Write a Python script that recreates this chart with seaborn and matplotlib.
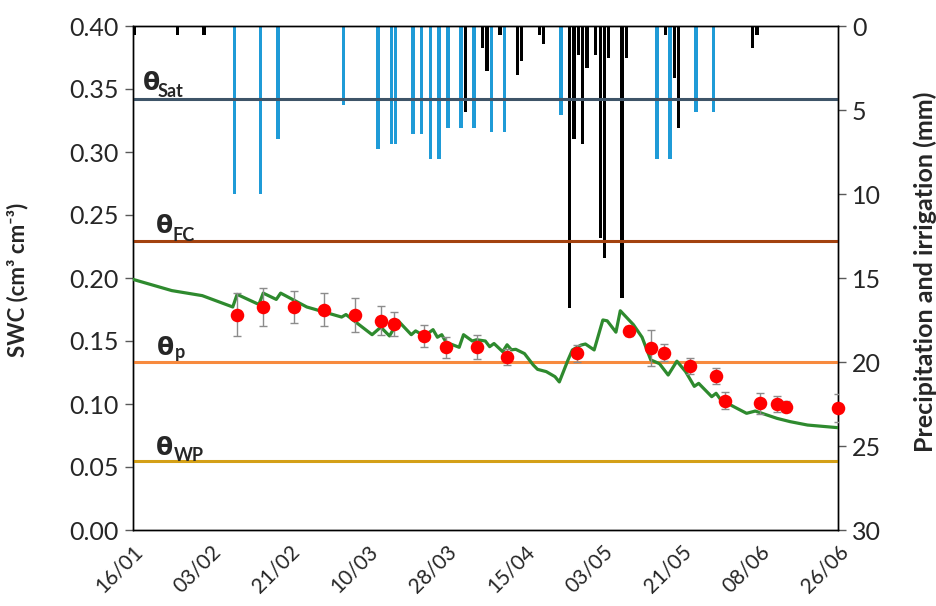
import matplotlib
matplotlib.use('Agg')
import matplotlib.pyplot as plt
import seaborn as sns
import pandas as pd

sns.set_style('white')
plt.rcParams['font.family'] = ['Lato', 'DejaVu Sans']

# ---------------- data ----------------
rain_dates = ['2016-01-16', '2016-01-26', '2016-02-01', '2016-04-01', '2016-04-05',
              '2016-04-06', '2016-04-09', '2016-04-13', '2016-04-14', '2016-04-18',
              '2016-04-19', '2016-04-25', '2016-04-26', '2016-04-27', '2016-04-28',
              '2016-04-29', '2016-05-01', '2016-05-02', '2016-05-03', '2016-05-04',
              '2016-05-07', '2016-05-08', '2016-05-17', '2016-05-19', '2016-05-20',
              '2016-06-06', '2016-06-07']
rain_mm = [0.55, 0.55, 0.55, 5.1, 1.3,
           2.7, 0.55, 2.9, 2.1, 0.55,
           1.1, 16.8, 6.7, 1.7, 7.0,
           2.5, 1.7, 12.6, 13.8, 1.9,
           16.2, 1.9, 0.55, 3.1, 6.1,
           1.3, 0.55]

irr_dates = ['2016-02-08', '2016-02-14', '2016-02-18', '2016-03-04', '2016-03-12',
             '2016-03-15', '2016-03-16', '2016-03-20', '2016-03-22', '2016-03-24',
             '2016-03-26', '2016-03-28', '2016-03-31', '2016-04-03', '2016-04-07',
             '2016-04-10', '2016-04-23', '2016-05-15', '2016-05-18', '2016-05-24',
             '2016-05-28']
irr_mm = [10.0, 10.0, 6.7, 4.7, 7.3,
          7.0, 7.0, 6.4, 6.4, 7.9,
          7.9, 6.1, 6.1, 6.1, 6.3,
          6.3, 5.3, 7.9, 7.9, 5.1,
          5.1]

sim_dates = ['2016-01-16', '2016-01-25', '2016-02-01', '2016-02-08', '2016-02-09',
             '2016-02-14', '2016-02-15', '2016-02-18', '2016-02-19', '2016-02-25',
             '2016-03-04', '2016-03-05', '2016-03-11', '2016-03-13', '2016-03-15',
             '2016-03-17', '2016-03-20', '2016-03-21', '2016-03-23', '2016-03-25',
             '2016-03-26', '2016-03-27', '2016-03-28', '2016-03-31', '2016-04-01',
             '2016-04-03', '2016-04-04', '2016-04-06', '2016-04-07', '2016-04-08',
             '2016-04-10', '2016-04-11', '2016-04-12', '2016-04-13', '2016-04-15',
             '2016-04-17', '2016-04-18', '2016-04-20', '2016-04-22', '2016-04-23',
             '2016-04-25', '2016-04-26', '2016-04-28', '2016-04-29', '2016-05-01',
             '2016-05-03', '2016-05-04', '2016-05-06', '2016-05-07', '2016-05-10',
             '2016-05-12', '2016-05-14', '2016-05-16', '2016-05-18', '2016-05-20',
             '2016-05-22', '2016-05-24', '2016-05-25', '2016-05-28', '2016-05-29',
             '2016-05-30', '2016-06-02', '2016-06-05', '2016-06-07', '2016-06-12',
             '2016-06-15', '2016-06-19', '2016-06-26']
sim_swc = [0.199, 0.190, 0.186, 0.177, 0.187,
           0.179, 0.188, 0.183, 0.188, 0.177,
           0.169, 0.171, 0.155, 0.161, 0.154,
           0.166, 0.155, 0.158, 0.154, 0.159,
           0.153, 0.155, 0.149, 0.145, 0.155,
           0.150, 0.151, 0.150, 0.1455, 0.148,
           0.1415, 0.147, 0.143, 0.1434, 0.140,
           0.131, 0.1275, 0.1257, 0.1217, 0.1175,
           0.135, 0.1429, 0.1468, 0.1476, 0.1429,
           0.1667, 0.166, 0.157, 0.174, 0.163,
           0.153, 0.135, 0.132, 0.123, 0.134,
           0.1257, 0.114, 0.1164, 0.1058, 0.1085,
           0.1037, 0.098, 0.0926, 0.0944, 0.0886,
           0.086, 0.0833, 0.0812]

obs_dates = ['2016-02-09', '2016-02-15', '2016-02-22', '2016-02-29', '2016-03-07',
             '2016-03-13', '2016-03-16', '2016-03-23', '2016-03-28', '2016-04-04',
             '2016-04-11', '2016-04-27', '2016-05-09', '2016-05-14', '2016-05-17',
             '2016-05-23', '2016-05-29', '2016-05-31', '2016-06-08', '2016-06-12',
             '2016-06-14', '2016-06-26']
obs_swc = [0.171, 0.177, 0.177, 0.175, 0.171,
           0.166, 0.1635, 0.154, 0.145, 0.1455,
           0.1376, 0.1402, 0.158, 0.1442, 0.1407,
           0.1304, 0.1222, 0.1026, 0.1005, 0.100,
           0.098, 0.097]
obs_err = [0.017, 0.015, 0.013, 0.013, 0.0135,
           0.0115, 0.0095, 0.009, 0.0085, 0.0095,
           0.0063, 0.0067, 0.004, 0.0143, 0.0068,
           0.0063, 0.0062, 0.0066, 0.0085, 0.0065,
           0.004, 0.011]

thr_names = ['Sat', 'FC', 'p', 'WP']
thr_values = [0.342, 0.229, 0.133, 0.055]
thr_colors = ['#3E5468', '#A3420F', '#F78A3E', '#D4A017']

tick_dates = ['2016-01-16', '2016-02-03', '2016-02-21', '2016-03-10', '2016-03-28',
              '2016-04-15', '2016-05-03', '2016-05-21', '2016-06-08', '2016-06-26']
tick_labels = ['16/01', '03/02', '21/02', '10/03', '28/03',
               '15/04', '03/05', '21/05', '08/06', '26/06']
left_ticks = [0.00, 0.05, 0.10, 0.15, 0.20, 0.25, 0.30, 0.35, 0.40]
right_ticks = [0, 5, 10, 15, 20, 25, 30]

# ---------------- figure ----------------
fig = plt.figure(figsize=(9.36, 6.06), dpi=100)
ax = fig.add_axes([132.6 / 936, 1 - 530 / 606, 705.4 / 936, 504 / 606])
ax2 = ax.twinx()
ax.set_zorder(ax2.get_zorder() + 1)
ax.patch.set_visible(False)

# bars on secondary (inverted) axis
ax2.bar(pd.to_datetime(rain_dates), rain_mm, width=0.75, align='edge',
        color='black', linewidth=0)
ax2.bar(pd.to_datetime(irr_dates), irr_mm, width=0.8, align='edge',
        color='#1F9BD7', linewidth=0)
ax2.set_ylim(30, 0)
ax2.set_yticks(right_ticks)

# threshold lines
for v, c in zip(thr_values, thr_colors):
    ax.axhline(v, color=c, linewidth=2.2, zorder=2)

# simulated SWC
sim_df = pd.DataFrame({'date': pd.to_datetime(sim_dates), 'swc': sim_swc})
sns.lineplot(data=sim_df, x='date', y='swc', ax=ax, color='#2E8A2E', linewidth=2.3, zorder=3)

# observed SWC
obs_df = pd.DataFrame({'date': pd.to_datetime(obs_dates), 'swc': obs_swc, 'err': obs_err})
ax.errorbar(obs_df['date'], obs_df['swc'], yerr=obs_df['err'], fmt='none',
            ecolor='#8C8C8C', elinewidth=1.0, capsize=3, capthick=1.0, zorder=4)
sns.scatterplot(data=obs_df, x='date', y='swc', ax=ax, color='#FF0000', s=95,
                edgecolor='#FF0000', linewidth=0, zorder=5, clip_on=False)

ax.set_xlim(pd.Timestamp('2016-01-16'), pd.Timestamp('2016-06-26'))
ax.set_ylim(0, 0.40)
ax.set_yticks(left_ticks)
ax.set_yticklabels([f'{t:.2f}' for t in left_ticks])
ax.set_xticks(pd.to_datetime(tick_dates))
ax.set_xticklabels(tick_labels, rotation=45, ha='right', va='top', rotation_mode='anchor')

for a in (ax, ax2):
    for s in a.spines.values():
        s.set_color('black')
        s.set_linewidth(1.0)
ax.tick_params(axis='both', which='major', direction='out', length=6, width=1,
               color='#595959', labelsize=18, pad=4)
ax.tick_params(axis='x', labelsize=15, pad=2)
ax2.tick_params(axis='y', which='major', direction='out', length=6, width=1,
                color='#595959', labelsize=18, pad=4)

ax.set_xlabel('')
ax.set_ylabel('SWC (cm³ cm⁻³)', fontsize=16, fontweight='bold', va='center')
ax.yaxis.set_label_coords(-0.1625, 0.496)
ax2.set_ylabel('Precipitation and irrigation (mm)', fontsize=18, fontweight='bold',
               va='center', rotation=90)
ax2.yaxis.set_label_coords(1.1233, 0.512)

# theta labels
theta_pos = [(0.0147, 0.873, 0.0360, 0.859),
             (0.0332, 0.589, 0.0570, 0.573),
             (0.0346, 0.347, 0.0600, 0.341),
             (0.0332, 0.149, 0.0580, 0.137)]
for name, (tx, ty, sx, sy) in zip(thr_names, theta_pos):
    ax.text(tx, ty, 'θ', transform=ax.transAxes, fontsize=18, fontweight='bold',
            family=['DejaVu Sans'], ha='left', va='baseline', zorder=6)
    ax.text(sx, sy, name, transform=ax.transAxes, fontsize=13, fontweight='bold',
            ha='left', va='baseline', zorder=6)

fig.savefig('out.png', dpi=100)
